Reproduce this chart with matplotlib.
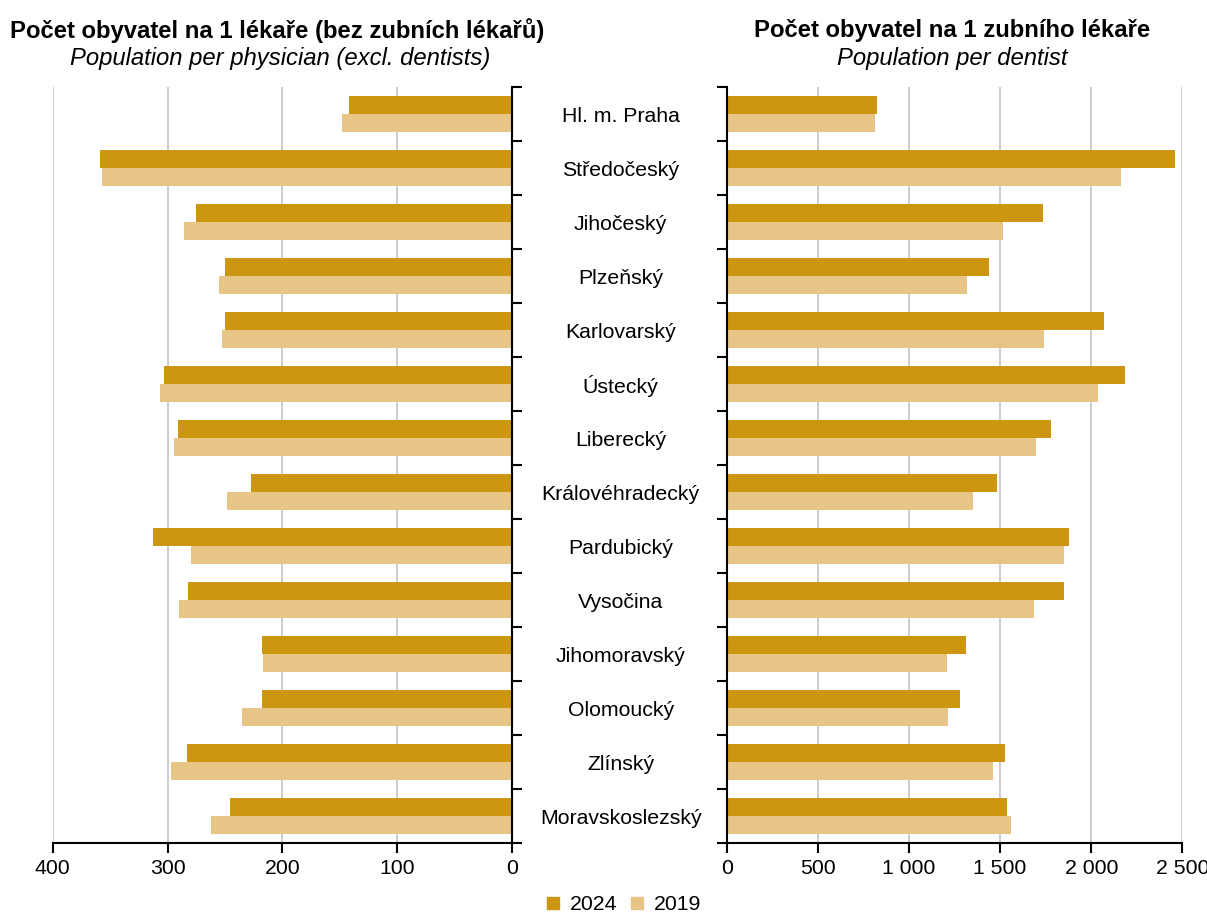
import matplotlib
matplotlib.use("Agg")
import matplotlib.pyplot as plt
import numpy as np
from matplotlib.ticker import FuncFormatter, FixedLocator
from matplotlib.lines import Line2D

plt.rcParams['font.family'] = ['Liberation Sans', 'DejaVu Sans']

regions = ["Hl. m. Praha", "Středočeský", "Jihočeský", "Plzeňský", "Karlovarský",
           "Ústecký", "Liberecký", "Královéhradecký", "Pardubický", "Vysočina",
           "Jihomoravský", "Olomoucký", "Zlínský", "Moravskoslezský"]

phys_2024 = [142, 359, 275, 250, 250, 303, 291, 227, 313, 282, 218, 218, 283, 246]
phys_2019 = [148, 357, 286, 255, 253, 307, 294, 248, 280, 290, 217, 235, 297, 262]

dent_2024 = [823, 2458, 1736, 1437, 2068, 2187, 1781, 1481, 1880, 1851, 1315, 1278, 1527, 1536]
dent_2019 = [812, 2162, 1518, 1317, 1739, 2035, 1697, 1350, 1849, 1686, 1209, 1214, 1459, 1560]

years = ["2024", "2019"]
c2024 = "#CC9611"
c2019 = "#E6C587"

fig = plt.figure(figsize=(12.07, 9.13), dpi=100)
axL = fig.add_axes([0.0437, 0.0763, 0.3805, 0.8281])
axR = fig.add_axes([0.6021, 0.0763, 0.3775, 0.8281])

n = len(regions)
y = np.arange(n)
h = 0.333
fs = 15.3

def style(ax):
    ax.set_ylim(n - 0.5, -0.5)
    ax.yaxis.set_major_locator(FixedLocator(np.arange(-0.5, n, 1)))
    ax.set_yticklabels([])
    ax.grid(axis='x', color='#C4C4C4', linewidth=1.2)
    ax.set_axisbelow(True)
    ax.tick_params(axis='both', direction='out', length=7, width=1.5, labelsize=fs, color='black')
    ax.tick_params(axis='x', pad=4)
    for s in ax.spines.values():
        s.set_linewidth(1.5)
    ax.spines['top'].set_visible(False)

# Left
axL.barh(y - h / 2, phys_2024, height=h, color=c2024, zorder=2)
axL.barh(y + h / 2, phys_2019, height=h, color=c2019, zorder=2)
axL.set_xlim(400, 0)
axL.set_xticks([400, 300, 200, 100, 0])
style(axL)
axL.spines['left'].set_visible(False)
axL.yaxis.tick_right()
axL.tick_params(axis='y', right=True, left=False)

# Right
axR.barh(y - h / 2, dent_2024, height=h, color=c2024, zorder=2)
axR.barh(y + h / 2, dent_2019, height=h, color=c2019, zorder=2)
axR.set_xlim(0, 2500)
axR.set_xticks([0, 500, 1000, 1500, 2000, 2500])
axR.xaxis.set_major_formatter(FuncFormatter(lambda v, p: f"{int(v):,}".replace(",", " ")))
style(axR)
axR.spines['right'].set_visible(False)

# Category labels between panels
x_mid = 0.5 * ((0.0437 + 0.3805) + 0.6021)
for i, r in enumerate(regions):
    yy = axL.transData.transform((0, i))[1]
    fy = fig.transFigure.inverted().transform((0, yy))[1]
    fig.text(x_mid + 0.001, fy - 0.002, r, ha='center', va='center', fontsize=fs)

# Titles
fig.text(0.2295, 0.967, "Počet obyvatel na 1 lékaře (bez zubních lékařů)", ha='center', va='center',
         fontsize=17.2, fontweight='bold')
fig.text(0.2325, 0.936, "Population per physician (excl. dentists)", ha='center', va='center',
         fontsize=17.2, fontstyle='italic')
fig.text(0.789, 0.967, "Počet obyvatel na 1 zubního lékaře", ha='center', va='center',
         fontsize=17.2, fontweight='bold')
fig.text(0.789, 0.936, "Population per dentist", ha='center', va='center',
         fontsize=17.2, fontstyle='italic')

handles = [Line2D([], [], marker='s', linestyle='none', markersize=8, color=c2024),
           Line2D([], [], marker='s', linestyle='none', markersize=8, color=c2019)]
fig.legend(handles, years, loc='center', bbox_to_anchor=(0.516, 0.009), ncol=2, frameon=False,
           fontsize=fs, handlelength=0.8, handletextpad=0.4, columnspacing=0.55)

fig.savefig("out.png", dpi=100)
